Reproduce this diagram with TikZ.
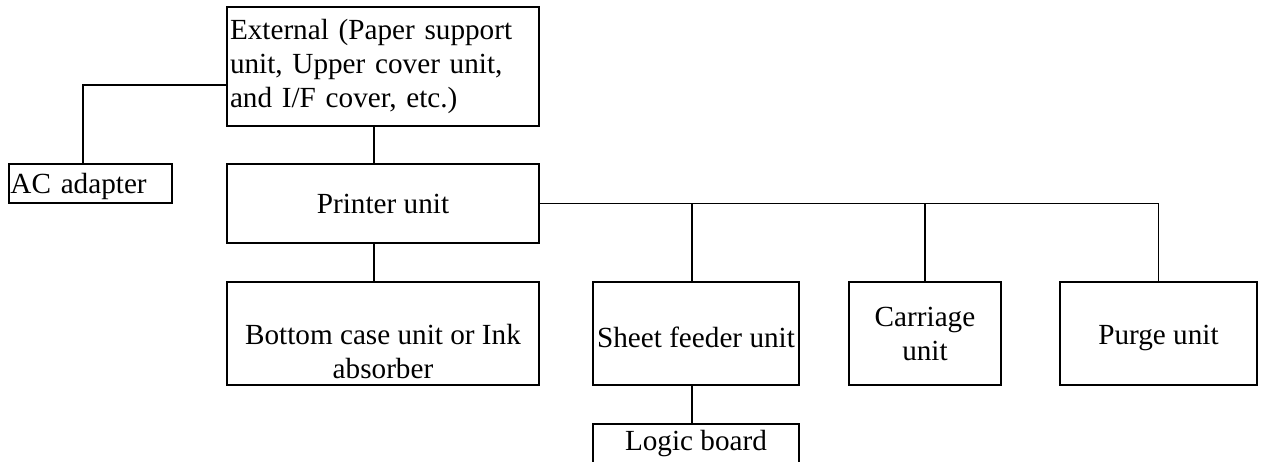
\documentclass[tikz,border=0pt]{standalone}
\usepackage{fontspec}
\setmainfont{Liberation Serif}
\usetikzlibrary{positioning}

\tikzset{unit/.style={draw, line width=0.9pt, inner sep=0pt, align=center},
         link/.style={line width=0.9pt}}

\begin{document}
\begin{tikzpicture} [x=0.5pt, y=-0.5pt, font=\fontsize{14.6pt}{17pt}\selectfont]
 \useasboundingbox (0,0) rectangle (1265,461);
 \clip (0,0) rectangle (1265,461);
 % boxes
 \node [unit, minimum width=156pt, minimum height=59.5pt, text width=153pt, align=left] (ext) at (383,66.5)
   {External (Paper support\\unit, Upper cover unit,\\and I/F cover, etc.)};
 \node [unit, minimum width=81.5pt, minimum height=19.5pt, text width=80pt, align=left, text depth=0pt] (ac) at (90.5,183.5) {AC adapter};
 \node [unit, minimum width=156pt, minimum height=39.5pt] (printer) at (383,203.5) {Printer unit};
 \node [unit, minimum width=156pt, minimum height=51.5pt] (bottom) at (383,333.5)
   {\raisebox{-10.5pt}[\height][\depth]{\begin{tabular}{@{}c@{}}Bottom case unit or Ink\\absorber\end{tabular}}};
 \node [unit, minimum width=103pt, minimum height=51.5pt] (sheet) at (696,333.5)
   {\raisebox{-2pt}[\height][\depth]{Sheet feeder unit}};
 \node [unit, minimum width=76pt, minimum height=51.5pt] (carriage) at (925,333.5) {Carriage\\unit};
 \node [unit, minimum width=98.5pt, minimum height=51.5pt] (purge) at (1158.5,333.5)
   {\raisebox{-2pt}[\height][\depth]{Purge unit}};
 \node [unit, minimum width=103pt, minimum height=22pt] (logic) at (696,446)
   {\raisebox{1pt}[\height][\depth]{Logic board}};
 % connections
 \draw [link] ([xshift=-3.75pt]ac.north) |- ([yshift=-9.25pt]ext.west);
 \draw [link] ([xshift=-4.5pt]ext.south) -- ([xshift=-4.5pt]printer.north);
 \draw [link] ([xshift=-4.5pt]printer.south) -- ([xshift=-4.5pt]bottom.north);
 \draw [link] (printer.east) -| (purge.north);
 \draw [link] ([xshift=-2pt]sheet.north) -- ([xshift=-2pt]sheet.north |- printer.east);
 \draw [link] (carriage.north) -- (carriage.north |- printer.east);
 \draw [link] ([xshift=-2pt]sheet.south) -- ([xshift=-2pt]logic.north);
\end{tikzpicture}
\end{document}
